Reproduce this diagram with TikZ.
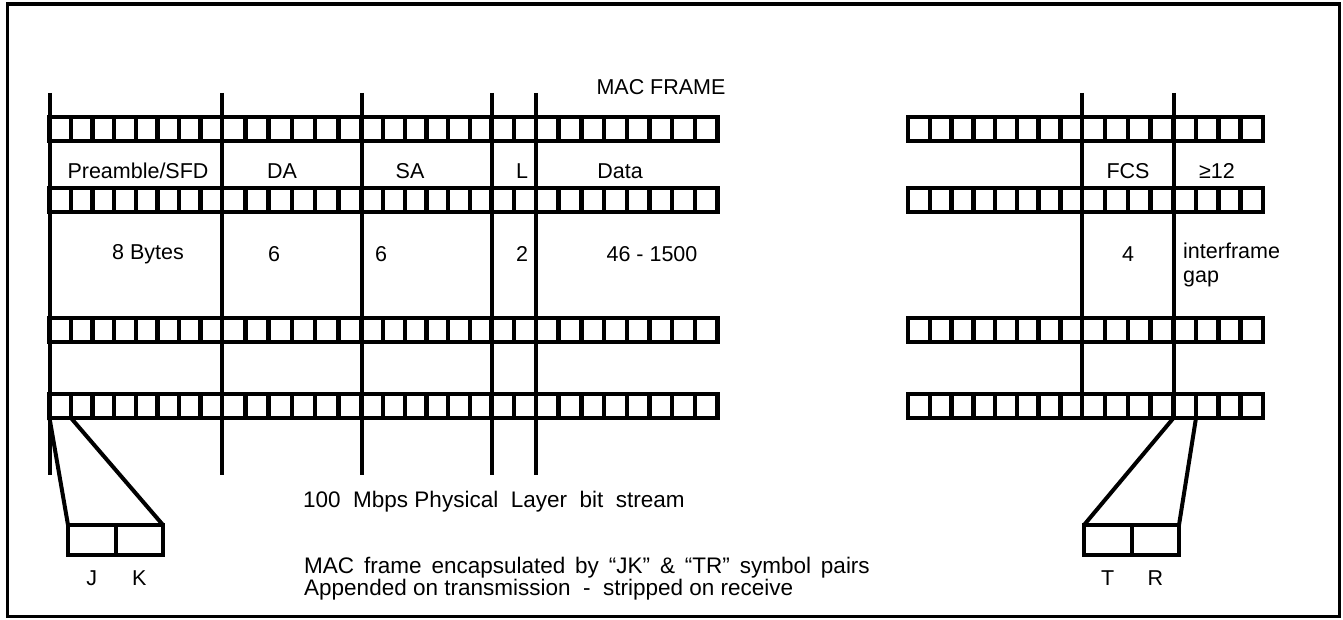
\documentclass[tikz,border=0pt]{standalone}
\usepackage{fontspec}
\setmainfont{Liberation Sans}
\usetikzlibrary{positioning}
\newcommand\widegap{\spaceskip=9.9pt\relax}

\begin{document}
\begin{tikzpicture}[
  x=1pt,y=-1pt,
  font=\fontsize{21.5}{24}\selectfont,
  strip/.style={line width=4.5pt},
  fieldline/.style={line width=4pt},
  lbl/.style={inner sep=0pt},
  captxt/.style={inner sep=0pt,font=\fontsize{22.5}{22}\selectfont},
  symbox/.style={draw,line width=4pt,minimum width=47.5pt,minimum height=30pt,inner sep=0pt,outer sep=0pt},
  funnel/.style={line width=4pt}
]
\useasboundingbox (0,0) rectangle (1343,620);
\draw[line width=3.5pt] (7.5,4) rectangle (1339.5,616.5);

% bit strips, one octet per cell
\foreach \y in {129,200,330,406}{
  \draw[strip] (49.5,\y-12) rectangle (717.5,\y+12);
  \draw[strip] (908,\y-12) rectangle (1263,\y+12);
  \foreach \a/\b/\n in {49.5/222/8,222/361.5/6,361.5/491.5/6,491.5/536/2,536/717.5/8,908/1082/8,1082/1173.5/4,1173.5/1263/4}{
    \foreach \k in {1,...,\n}{
      \draw[strip] ({\a+(\b-\a)*\k/\n},\y-12) -- ++(0,24);
    }
  }
}

% field boundaries
\foreach \x in {49.5,222,361.5,491.5,536}
  \draw[fieldline] (\x,93) -- (\x,475);
\foreach \x in {1082,1173.5}
  \draw[fieldline] (\x,93) -- (\x,394);

% field names
\node[lbl] (mac) at (661,87) {MAC FRAME};
\node[lbl] (pre) at (138,171) {Preamble/SFD};
\node[lbl] (da) at (282,171) {DA};
\node[lbl] (sa) at (410,171) {SA};
\node[lbl] (len) at (522,171) {L};
\node[lbl] (data) at (620,171) {Data};
\node[lbl] (fcs) at (1128,171) {FCS};
\node[lbl] (ifg) at (1217,171) {≥12};

% field sizes
\node[lbl] (npre) at (148,254) {8 Bytes};
\node[lbl] (nda) at (274,254) {6};
\node[lbl] (nsa) at (381,254) {6};
\node[lbl] (nlen) at (522,254) {2};
\node[lbl] (ndata) at (652,254) {46 - 1500};
\node[lbl] (nfcs) at (1128,254) {4};
\node[lbl,anchor=north west,align=left] (nifg) at (1183,243) {interframe\\gap};

% start and end delimiters
\node[symbox] (jcell) at (91.75,540) {};
\node[symbox,right=0pt of jcell] (kcell) {};
\node[symbox] (tcell) at (1107.75,540) {};
\node[symbox,right=0pt of tcell] (rcell) {};
\node[lbl,below=16pt of jcell] (jtxt) {J};
\node[lbl,below=16pt of kcell] (ktxt) {K};
\node[lbl,below=16pt of tcell] (ttxt) {T};
\node[lbl,below=16pt of rcell] (rtxt) {R};

\coordinate (jk1) at (49.5,418);
\coordinate (jk2) at (71,418);
\coordinate (tr1) at (1173.5,418);
\coordinate (tr2) at (1196,418);
\draw[funnel] (jk1) -- (jcell.north west);
\draw[funnel] (jk2) -- (kcell.north east);
\draw[funnel] (tr1) -- (tcell.north west);
\draw[funnel] (tr2) -- (rcell.north east);

% captions
\node[captxt,anchor=west] (bits) at (303,502) {100~~Mbps Physical~~Layer~~bit~~stream};
\node[captxt,anchor=west,align=left] (note) at (304,579) {{\widegap MAC frame encapsulated by “JK” \& “TR” symbol pairs}\\Appended on transmission~~-~~stripped on receive};
\end{tikzpicture}
\end{document}
